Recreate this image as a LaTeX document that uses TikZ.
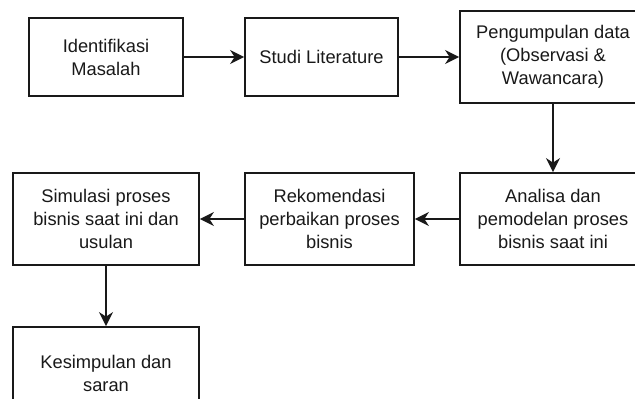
\documentclass[tikz,border=0pt]{standalone}
\usepackage{fontspec}
\setmainfont{Liberation Sans}
\usetikzlibrary{arrows.meta}
\begin{document}
\begin{tikzpicture}[x=1pt,y=-1pt,
  stepbox/.style={draw=black!90, line width=1.8pt, align=center, inner sep=0pt,
    font=\fontsize{18.3}{23}\selectfont, text=black!90},
  flow/.style={draw=black!90, line width=1.7pt,
    -{Stealth[length=14pt,width=14pt,inset=4.5pt]}}]
  \useasboundingbox (0,0) rectangle (635,399);
  \clip (0,0) rectangle (635,399);
  \fill[white] (0,0) rectangle (635,399);

  % top row
  \node[stepbox, minimum width=154, minimum height=78] (ident) at (106,57)
    {Identifikasi\\Masalah};
  \node[stepbox, minimum width=153, minimum height=78] (studi) at (321.5,57)
    {Studi Literature};
  \node[stepbox, minimum width=186, minimum height=92] (kumpul) at (553,57)
    {Pengumpulan data\\(Observasi \&\\Wawancara)};

  % middle row
  \node[stepbox, minimum width=186, minimum height=92] (analisa) at (553,219)
    {Analisa dan\\pemodelan proses\\bisnis saat ini};
  \node[stepbox, minimum width=169, minimum height=92] (rekom) at (329.5,219)
    {Rekomendasi\\perbaikan proses\\bisnis};
  \node[stepbox, minimum width=186, minimum height=92] (simul) at (106,219)
    {Simulasi proses\\bisnis saat ini dan\\usulan};

  % bottom row
  \node[stepbox, minimum width=186, minimum height=92] (simpul) at (106,373)
    {Kesimpulan dan\\saran};

  % connectors
  \draw[flow] (ident) -- (studi);
  \draw[flow] (studi) -- (kumpul);
  \draw[flow] (kumpul) -- (analisa);
  \draw[flow] (analisa) -- (rekom);
  \draw[flow] (rekom) -- (simul);
  \draw[flow] (simul) -- (simpul);
\end{tikzpicture}
\end{document}
